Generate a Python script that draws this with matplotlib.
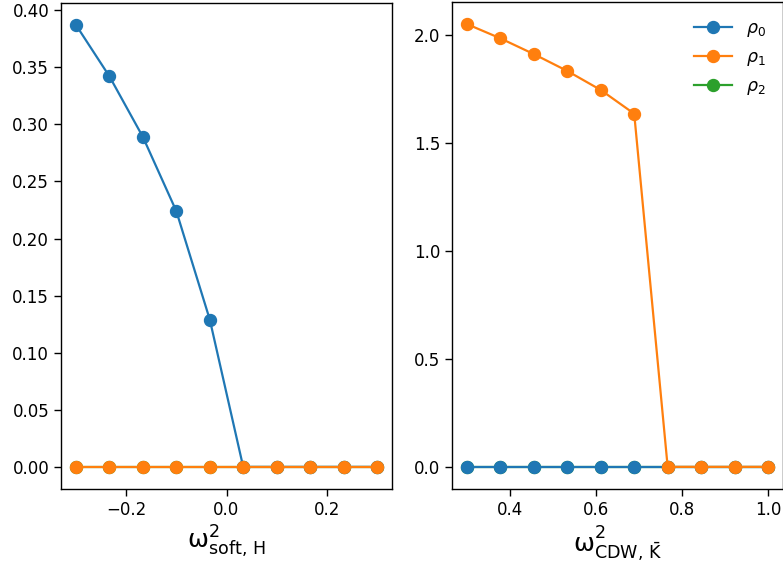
import numpy as np
import matplotlib
matplotlib.use("Agg")
import matplotlib.pyplot as plt

# Left panel data
x_soft = [-0.3, -0.2333, -0.1667, -0.1, -0.0333, 0.0333, 0.1, 0.1667, 0.2333, 0.3]
rho0_soft = [0.387, 0.342, 0.289, 0.224, 0.129, 0.0, 0.0, 0.0, 0.0, 0.0]
rho1_soft = [0.0, 0.0, 0.0, 0.0, 0.0, 0.0, 0.0, 0.0, 0.0, 0.0]
rho2_soft = [0.0, 0.0, 0.0, 0.0, 0.0, 0.0, 0.0, 0.0, 0.0, 0.0]

# Right panel data
x_cdw = [0.3, 0.3778, 0.4556, 0.5333, 0.6111, 0.6889, 0.7667, 0.8444, 0.9222, 1.0]
rho0_cdw = [0.0, 0.0, 0.0, 0.0, 0.0, 0.0, 0.0, 0.0, 0.0, 0.0]
rho1_cdw = [2.05, 1.984, 1.911, 1.833, 1.745, 1.635, 0.0, 0.0, 0.0, 0.0]
rho2_cdw = [0.0, 0.0, 0.0, 0.0, 0.0, 0.0, 0.0, 0.0, 0.0, 0.0]

labels = [r'$\rho_0$', r'$\rho_1$', r'$\rho_2$']
colors = ['#1f77b4', '#ff7f0e', '#2ca02c']

W, H = 783, 570
fig = plt.figure(figsize=(W / 100, H / 100), dpi=100)
ax1 = fig.add_axes([61 / W, (H - 489) / H, 331 / W, 486 / H])
ax2 = fig.add_axes([452 / W, (H - 489) / H, 331 / W, 487 / H])

ms = 8.6
lw = 1.6
for ax, x, series in [(ax1, x_soft, [rho0_soft, rho1_soft, rho2_soft]),
                      (ax2, x_cdw, [rho0_cdw, rho1_cdw, rho2_cdw])]:
    for i, (y, lab, c) in enumerate(zip(series, labels, colors)):
        z = 1 if i == 2 else 2 + i * 0.1
        ax.plot(x, y, marker='o', color=c, label=lab, ms=ms, lw=lw, zorder=z)
    ax.tick_params(labelsize=12, length=5, width=1)
    for s in ax.spines.values():
        s.set_linewidth(1)

ax1.set_yticks([0.0, 0.05, 0.10, 0.15, 0.20, 0.25, 0.30, 0.35, 0.40])
ax1.set_yticklabels(['0.00', '0.05', '0.10', '0.15', '0.20', '0.25', '0.30', '0.35', '0.40'])
ax1.set_xticks([-0.2, 0.0, 0.2])
ax2.set_yticks([0.0, 0.5, 1.0, 1.5, 2.0])
ax2.set_xticks([0.4, 0.6, 0.8, 1.0])

ax1.set_xlabel(r'$\mathrm{\omega}^2_{\mathrm{soft,\,H}}$', fontsize=18, labelpad=4)
ax2.set_xlabel(r'$\mathrm{\omega}^2_{\mathrm{CDW,\,\bar{K}}}$', fontsize=18, labelpad=4)

leg = ax2.legend(loc='upper right', frameon=False, fontsize=12.5, handlelength=2.2,
                 borderaxespad=0.6, markerscale=1.0)

fig.savefig('out.png', dpi=100)
